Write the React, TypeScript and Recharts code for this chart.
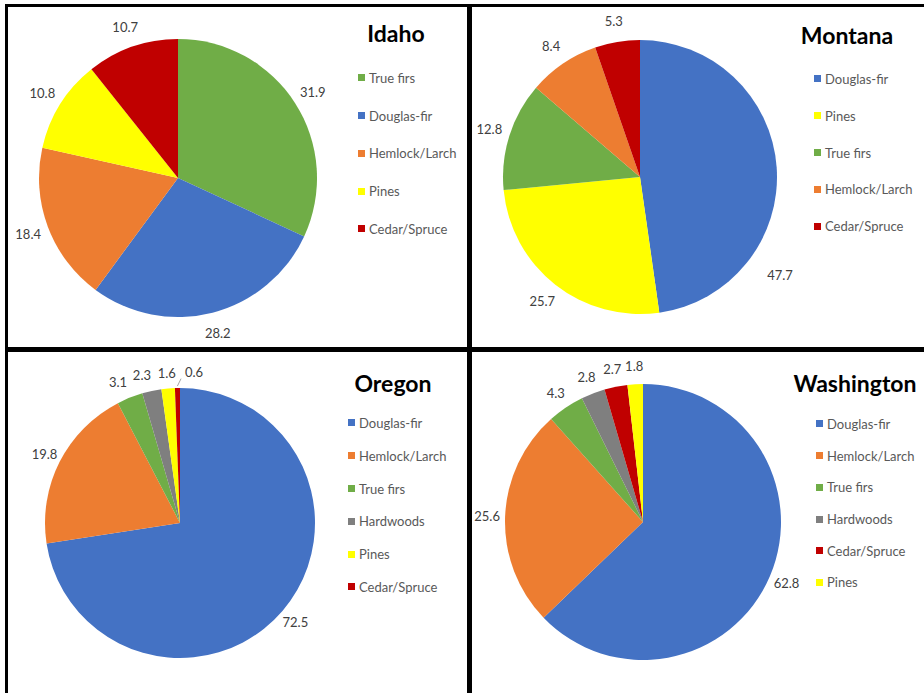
import { Cell, Pie, PieChart } from "recharts";

// Share of timber volume by species group, percent
const idahoSpecies = ["True firs", "Douglas-fir", "Hemlock/Larch", "Pines", "Cedar/Spruce"];
const idahoShares = [31.9, 28.2, 18.4, 10.8, 10.7];

const montanaSpecies = ["Douglas-fir", "Pines", "True firs", "Hemlock/Larch", "Cedar/Spruce"];
const montanaShares = [47.7, 25.7, 12.8, 8.4, 5.3];

const oregonSpecies = ["Douglas-fir", "Hemlock/Larch", "True firs", "Hardwoods", "Pines", "Cedar/Spruce"];
const oregonShares = [72.5, 19.8, 3.1, 2.3, 1.6, 0.6];

const washingtonSpecies = ["Douglas-fir", "Hemlock/Larch", "True firs", "Hardwoods", "Cedar/Spruce", "Pines"];
const washingtonShares = [62.8, 25.6, 4.3, 2.8, 2.7, 1.8];

const speciesColors: Record<string, string> = {
  "Douglas-fir": "#4472C4",
  "Hemlock/Larch": "#ED7D31",
  "True firs": "#70AD47",
  Pines: "#FFFF00",
  "Cedar/Spruce": "#C00000",
  Hardwoods: "#7F7F7F",
};

const FONT = "Lato, 'Open Sans', sans-serif";
const RAD = Math.PI / 180;

// angle is measured clockwise from 12 o'clock
type LabelTweak = { angle: number; dist: number; leader?: boolean };

type Panel = {
  state: string;
  species: string[];
  shares: number[];
  left: number;
  top: number;
  width: number;
  height: number;
  cx: number;
  cy: number;
  r: number;
  gap: number;
  titleX: number;
  titleY: number;
  legendX: number;
  legendY: number;
  legendStep: number;
  tweaks?: Record<string, LabelTweak>;
};

const panels: Panel[] = [
  {
    state: "Idaho",
    species: idahoSpecies,
    shares: idahoShares,
    left: 0, top: 0, width: 462, height: 347,
    cx: 178, cy: 178, r: 139, gap: 21,
    titleX: 396, titleY: 33,
    legendX: 358, legendY: 78, legendStep: 37.7,
  },
  {
    state: "Montana",
    species: montanaSpecies,
    shares: montanaShares,
    left: 462, top: 0, width: 462, height: 347,
    cx: 178, cy: 177, r: 137, gap: 21,
    titleX: 385, titleY: 35,
    legendX: 352, legendY: 79, legendStep: 36.8,
    tweaks: { "Douglas-fir": { angle: 125, dist: 171 } },
  },
  {
    state: "Oregon",
    species: oregonSpecies,
    shares: oregonShares,
    left: 0, top: 340, width: 462, height: 353,
    cx: 180, cy: 183, r: 135, gap: 17,
    titleX: 393, titleY: 43,
    legendX: 348, legendY: 83, legendStep: 32.8,
    // small slices crowd together at the top, so spread their labels out
    tweaks: {
      "True firs": { angle: 336.3, dist: 154 },
      Hardwoods: { angle: 345.6, dist: 153 },
      Pines: { angle: 355, dist: 151 },
      "Cedar/Spruce": { angle: 5.3, dist: 152, leader: true },
    },
  },
  {
    state: "Washington",
    species: washingtonSpecies,
    shares: washingtonShares,
    left: 462, top: 340, width: 462, height: 353,
    cx: 181, cy: 182, r: 138, gap: 18,
    titleX: 393, titleY: 43,
    legendX: 354, legendY: 84, legendStep: 31.7,
  },
];

function makeLabel(p: Panel) {
  return (props: any) => {
    const { cx, cy, midAngle, outerRadius, value } = props;
    const name = props.payload?.name ?? props.name;
    const tweak = p.tweaks?.[name];
    const a = tweak ? tweak.angle : 90 - midAngle;
    const d = tweak ? tweak.dist : outerRadius + p.gap;
    const x = cx + d * Math.sin(a * RAD);
    const y = cy - d * Math.cos(a * RAD);
    const mid = 90 - midAngle;
    return (
      <g>
        {tweak?.leader && (
          <line
            x1={cx + (outerRadius + 2) * Math.sin(mid * RAD)}
            y1={cy - (outerRadius + 2) * Math.cos(mid * RAD)}
            x2={x - 13}
            y2={y + 7}
            stroke="#A6A6A6"
            strokeWidth={1}
          />
        )}
        <text
          x={x}
          y={y}
          textAnchor="middle"
          dominantBaseline="central"
          fill="#404040"
          fontSize={13}
          fontFamily={FONT}
        >
          {value.toFixed(1)}
        </text>
      </g>
    );
  };
}

function StateLegend({ p }: { p: Panel }) {
  return (
    <div style={{ position: "absolute", left: p.legendX, top: p.legendY - p.legendStep / 2 }}>
      {p.species.map((name) => (
        <div
          key={name}
          style={{
            height: p.legendStep,
            display: "flex",
            alignItems: "center",
            fontFamily: FONT,
            fontSize: 13,
            color: "#595959",
            whiteSpace: "nowrap",
          }}
        >
          <span style={{ width: 7, height: 7, marginRight: 4, background: speciesColors[name] }} />
          <span>{name}</span>
        </div>
      ))}
    </div>
  );
}

function StatePie({ p }: { p: Panel }) {
  const data = p.species.map((name, i) => ({ name, value: p.shares[i] }));

  return (
    <div style={{ position: "absolute", left: p.left, top: p.top, width: p.width, height: p.height }}>
      <PieChart width={p.width} height={p.height} margin={{ top: 0, right: 0, bottom: 0, left: 0 }}>
        <Pie
          data={data}
          dataKey="value"
          nameKey="name"
          cx={p.cx}
          cy={p.cy}
          outerRadius={p.r}
          startAngle={90}
          endAngle={-270}
          stroke="none"
          label={makeLabel(p)}
          labelLine={false}
          isAnimationActive={false}
        >
          {data.map((d) => (
            <Cell key={d.name} fill={speciesColors[d.name]} />
          ))}
        </Pie>
      </PieChart>
      <StateLegend p={p} />
      <div
        style={{
          position: "absolute",
          left: p.titleX,
          top: p.titleY,
          transform: "translate(-50%, -50%)",
          fontFamily: FONT,
          fontWeight: 700,
          fontSize: 23,
          color: "#000",
          whiteSpace: "nowrap",
          lineHeight: 1,
        }}
      >
        {p.state}
      </div>
    </div>
  );
}

const rule = (left: number, top: number, width: number, height: number) => (
  <div style={{ position: "absolute", left, top, width, height, background: "#000" }} />
);

export default function App() {
  return (
    <div
      style={{
        position: "absolute",
        left: 0,
        top: 0,
        width: 924,
        height: 693,
        background: "#fff",
        overflow: "hidden",
      }}
    >
      {panels.map((p) => (
        <StatePie key={p.state} p={p} />
      ))}
      {rule(5, 4, 919, 3)}
      {rule(5, 4, 3, 689)}
      {rule(467, 4, 5, 689)}
      {rule(5, 347, 919, 5)}
    </div>
  );
}
